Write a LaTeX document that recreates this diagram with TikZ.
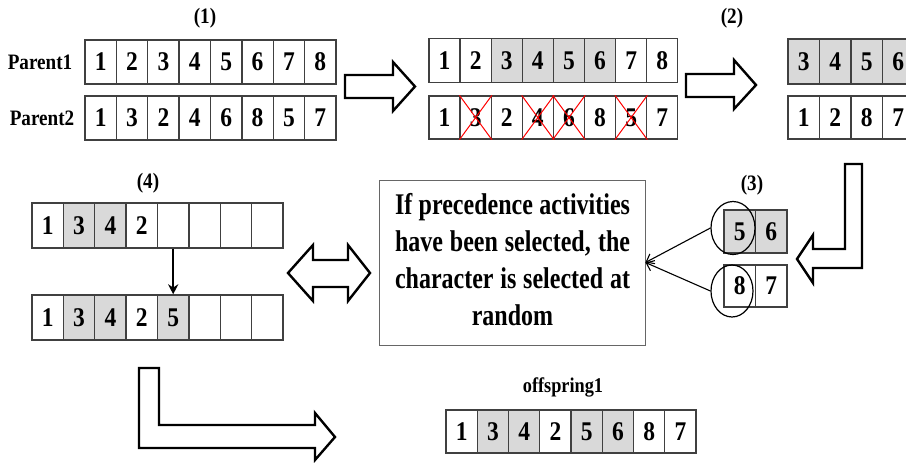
\documentclass[tikz,border=0pt]{standalone}
\usepackage{fontspec}
\setmainfont{Liberation Serif}[FakeStretch=0.87]
\newfontfamily\boxfont{Liberation Serif}[FakeStretch=0.8]
\usetikzlibrary{shapes.geometric,arrows.meta}
\colorlet{cg}{black!15}
\colorlet{cw}{white}
\tikzset{
  cell/.style={draw=black!75, line width=1.3pt, inner sep=0pt,
    font=\fontsize{27}{29}\selectfont\bfseries},
  blockarrow/.style={draw=black, line width=2.4pt, fill=white, line join=miter},
  lbl/.style={font=\fontsize{22}{24}\selectfont\bfseries, inner sep=0pt},
  xmark/.style={draw=red, line width=1pt},
  sel/.style={draw=black, line width=1.2pt, ellipse, inner sep=0pt},
  thinarrow/.style={line width=1.1pt, -{Straight Barb[length=7pt,width=11pt]}},
}
\newcommand\mkrow[6]{%
  \foreach \v/\c [count=\i] in {#6} {
    \node[cell, minimum width=#4pt, minimum height=#5pt, fill=\c] (#1-\i)
      at ({#2+(\i-0.5)*#4}, #3) {\v};
  }%
}
\begin{document}
\begin{tikzpicture}[x=1pt,y=-1pt]
\useasboundingbox (0,0) rectangle (906,463);
\clip (0,0) rectangle (906,463);

% step labels
\node[lbl] (l1) at (205,18) {(1)};
\node[lbl] (l2) at (732,18) {(2)};
\node[lbl] (l4) at (148,183) {(4)};
\node[lbl] (l3) at (752,185) {(3)};
\node[lbl, font=\fontsize{21}{23}\selectfont\bfseries] (loff) at (563,387) {offspring1};
\node[lbl] (lp1) at (40,62) {Parent1};
\node[lbl] (lp2) at (42,118) {Parent2};

% (1) parents
\mkrow{pa}{85}{62}{31.375}{44}{1/cw,2/cw,3/cw,4/cw,5/cw,6/cw,7/cw,8/cw}
\mkrow{pb}{85}{118}{31.375}{44}{1/cw,3/cw,2/cw,4/cw,6/cw,8/cw,5/cw,7/cw}

% middle
\mkrow{ma}{429}{60.5}{31.1}{44}{1/cw,2/cw,3/cg,4/cg,5/cg,6/cg,7/cw,8/cw}
\mkrow{mb}{429}{117.5}{31.1}{43}{1/cw,3/cw,2/cw,4/cw,6/cw,8/cw,5/cw,7/cw}
\foreach \k in {2,4,5,7}
  \draw[xmark] (mb-\k.north west) -- (mb-\k.south east)
               (mb-\k.north east) -- (mb-\k.south west);

% (2) right
\mkrow{ra}{788}{61.5}{31.5}{45}{3/cg,4/cg,5/cg,6/cg}
\mkrow{rb}{788}{117.5}{31.5}{43}{1/cw,2/cw,8/cw,7/cw}

% (4)
\mkrow{fa}{32}{225.5}{31.375}{45}{1/cw,3/cg,4/cg,2/cw,{}/cw,{}/cw,{}/cw,{}/cw}
\mkrow{fb}{32}{317.5}{31.375}{45}{1/cw,3/cg,4/cg,2/cw,5/cg,{}/cw,{}/cw,{}/cw}
\draw[line width=2.2pt, -{Stealth[length=10pt,width=10pt]}] (fa-5.south) -- (fb-5.north);

% (3)
\mkrow{ta}{724}{231.5}{31.5}{43}{5/cg,6/cg}
\mkrow{tb}{724}{286}{31.5}{42}{8/cw,7/cw}
\node[sel, minimum width=44pt, minimum height=53pt] (e1) at (733,228) {};
\node[sel, minimum width=42pt, minimum height=52pt] (e2) at (732,291) {};

% text box
\node[draw=black!60, line width=0.9pt, minimum width=266pt, minimum height=165pt,
      inner sep=0pt] (txt) at (512,262.5) {};
\node[align=center, inner sep=0pt,
      font=\boxfont\bfseries\fontsize{30}{37}\selectfont] (txtc) at (512.5,260)
  {\makebox[235pt][s]{If precedence activities}\\
   \makebox[235pt][s]{have been selected, the}\\
   \makebox[235pt][s]{character is selected at}\\
   random};
\draw[thinarrow] (e1.west) -- (txt.east);
\draw[thinarrow] (e2.west) -- (txt.east);

% offspring
\mkrow{os}{446}{431.5}{31.25}{43}{1/cw,3/cg,4/cg,2/cw,5/cg,6/cg,8/cw,7/cw}

% block arrows
\draw[blockarrow] (345,75) -- (393,75) -- (393,62) -- (415,86.5) -- (393,111)
  -- (393,98) -- (345,98) -- cycle;
\draw[blockarrow] (686,74) -- (734,74) -- (734,60) -- (756,85) -- (734,109)
  -- (734,97) -- (686,97) -- cycle;
\draw[blockarrow] (845,164) -- (862,164) -- (862,268) -- (813,268) -- (813,283)
  -- (797,259) -- (813,235) -- (813,249) -- (845,249) -- cycle;
\draw[blockarrow] (288,273) -- (313,245) -- (313,260) -- (348,260) -- (348,245)
  -- (370,273) -- (348,301) -- (348,287) -- (313,287) -- (313,301) -- cycle;
\draw[blockarrow] (139,368) -- (159,368) -- (159,425) -- (315,425) -- (315,413)
  -- (335,437) -- (315,460) -- (315,448) -- (139,448) -- cycle;
\end{tikzpicture}
\end{document}
